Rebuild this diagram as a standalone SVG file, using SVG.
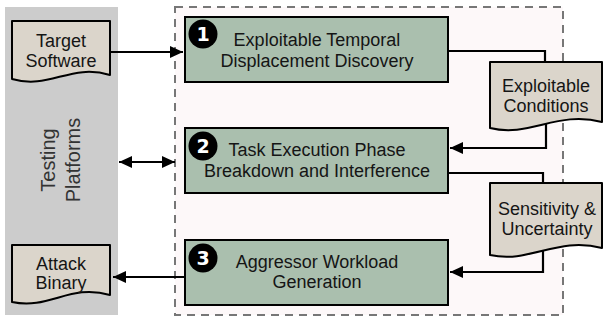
<svg xmlns="http://www.w3.org/2000/svg" width="603" height="320" viewBox="0 0 603 320">
<defs>
<marker id="ah" markerUnits="userSpaceOnUse" markerWidth="14" markerHeight="12" refX="13" refY="6" orient="auto-start-reverse">
<path d="M0,0 L13,6 L0,12 Z" fill="#000"/>
</marker>
<style>
text{font-family:"Liberation Sans",Arial,sans-serif;font-size:18px;fill:#151515;text-anchor:middle}
.box{fill:#aabfae;stroke:#000;stroke-width:2}
.doc{fill:#dbd5cb;stroke:#000;stroke-width:2;stroke-linejoin:round}
.badge{fill:#000}
.num{fill:#fff;font-family:"DejaVu Sans",sans-serif;font-weight:bold;font-size:19px}
.conn{fill:none;stroke:#000;stroke-width:2.2}
</style>
</defs>
<rect x="0" y="0" width="603" height="320" fill="#fff"/>
<g id="testing-platforms">
<rect x="5" y="7" width="113" height="308" fill="#cccccc"/>
<text transform="translate(0,160) rotate(-90)" style="font-size:20px;fill:#333"><tspan x="0" y="55">Testing</tspan><tspan x="0" y="80">Platforms</tspan></text>
</g>
<g id="framework">
<rect x="175" y="7" width="388" height="308" fill="#fdf8f9" stroke="#777" stroke-width="2" stroke-dasharray="8 6"/>
</g>
<g id="connectors">
<path class="conn" d="M110,52 H183" marker-end="url(#ah)"/>
<path class="conn" d="M448,51 H545 V64"/>
<path class="conn" d="M546,122 V148 H450" marker-end="url(#ah)"/>
<path class="conn" d="M448,173 H543 V185"/>
<path class="conn" d="M543,248 V272 H450" marker-end="url(#ah)"/>
<path class="conn" d="M185,277 H113" marker-end="url(#ah)"/>
<path class="conn" d="M119,162 H175" marker-start="url(#ah)" marker-end="url(#ah)"/>
</g>
<g id="target-software">
<path class="doc" d="M12,21 H110 V75 C70,63 50,90 12,79 Z"/>
<text x="61" y="47">Target</text>
<text x="61" y="67">Software</text>
</g>
<g id="attack-binary">
<path class="doc" d="M12,245 H110 V295 C70,283 50,310 12,302 Z"/>
<text x="61" y="270">Attack</text>
<text x="61" y="289">Binary</text>
</g>
<g id="exploitable-conditions">
<path class="doc" d="M490,62 H602 V122 C557,110 530,138 490,128 Z"/>
<text x="546" y="92">Exploitable</text>
<text x="546" y="112">Conditions</text>
</g>
<g id="sensitivity-uncertainty">
<path class="doc" d="M490,183 H602 V248 C557,236 530,264 490,255 Z"/>
<text x="547" y="215">Sensitivity &amp;</text>
<text x="547" y="235">Uncertainty</text>
</g>
<g id="step1">
<rect class="box" x="185" y="17" width="263" height="65"/>
<circle class="badge" cx="203" cy="34" r="14.5"/>
<text class="num" x="203" y="41">1</text>
<text x="317" y="46">Exploitable Temporal</text>
<text x="317" y="67">Displacement Discovery</text>
</g>
<g id="step2">
<rect class="box" x="185" y="128" width="263" height="65"/>
<circle class="badge" cx="203" cy="146" r="14.5"/>
<text class="num" x="203" y="153">2</text>
<text x="317" y="156">Task Execution Phase</text>
<text x="317" y="177">Breakdown and Interference</text>
</g>
<g id="step3">
<rect class="box" x="185" y="240" width="263" height="65"/>
<circle class="badge" cx="203" cy="258" r="14.5"/>
<text class="num" x="203" y="265">3</text>
<text x="317" y="268">Aggressor Workload</text>
<text x="317" y="288">Generation</text>
</g>
</svg>
